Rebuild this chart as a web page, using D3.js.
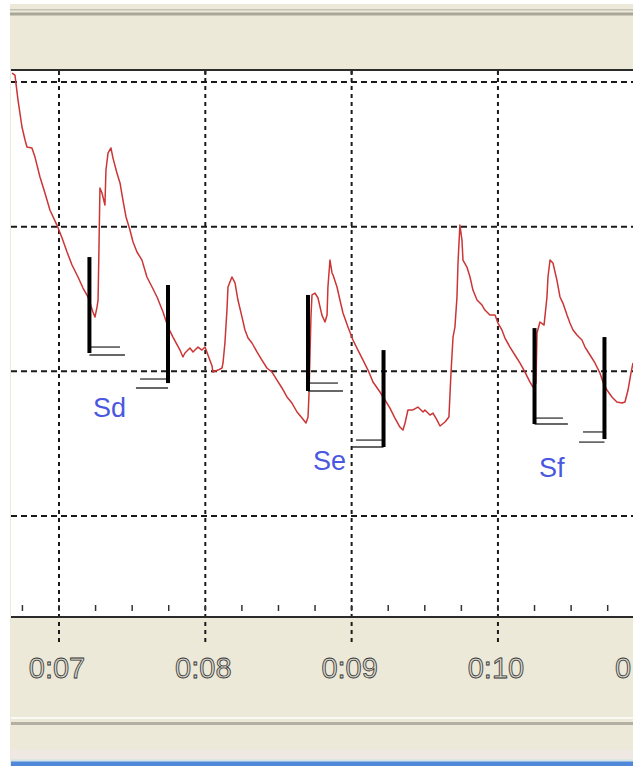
<!DOCTYPE html>
<html><head><meta charset="utf-8">
<script src="https://cdn.jsdelivr.net/npm/d3@7/dist/d3.min.js"></script>
<style>html,body{margin:0;padding:0;background:#fff;overflow:hidden}</style>
</head><body><svg id="c" width="633" height="766"></svg>
<script>
// ---- data (time in seconds, signal in grid units) ----
const times = [
6.679,6.699,6.720,6.747,6.768,6.781,6.815,6.836,6.870,6.904,
6.938,6.986,7.021,7.055,7.089,7.130,7.164,7.198,7.232,7.246,
7.260,7.267,7.273,7.280,7.294,7.314,7.321,7.335,7.355,7.369,
7.396,7.417,7.437,7.458,7.485,7.506,7.533,7.567,7.601,7.636,
7.670,7.711,7.745,7.779,7.827,7.847,7.861,7.895,7.916,7.950,
7.977,7.998,8.018,8.046,8.052,8.087,8.114,8.121,8.134,8.148,
8.155,8.182,8.203,8.223,8.251,8.271,8.292,8.319,8.353,8.387,
8.421,8.456,8.490,8.524,8.558,8.592,8.627,8.661,8.688,8.702,
8.709,8.722,8.729,8.750,8.770,8.797,8.818,8.832,8.838,8.852,
8.866,8.873,8.900,8.920,8.941,8.975,9.009,9.043,9.078,9.112,
9.146,9.194,9.228,9.262,9.296,9.330,9.351,9.365,9.385,9.419,
9.453,9.488,9.501,9.535,9.556,9.583,9.604,9.638,9.665,9.679,
9.693,9.706,9.720,9.727,9.740,9.754,9.761,9.788,9.809,9.829,
9.857,9.891,9.911,9.945,9.980,10.000,10.027,10.048,10.082,10.116,
10.150,10.185,10.219,10.239,10.260,10.267,10.287,10.315,10.335,10.342,
10.356,10.376,10.403,10.424,10.444,10.472,10.492,10.513,10.540,10.574,
10.595,10.629,10.663,10.697,10.718,10.745,10.779,10.813,10.848,10.868,
10.889,10.909,10.923];
const values = [
4.062,4.048,3.875,3.689,3.599,3.551,3.544,3.481,3.343,3.233,
3.115,3.011,2.922,2.825,2.735,2.652,2.576,2.514,2.410,2.375,
2.445,2.493,2.839,3.267,3.233,3.150,3.392,3.509,3.544,3.474,
3.371,3.302,3.184,3.067,2.977,2.894,2.825,2.769,2.652,2.583,
2.514,2.410,2.306,2.237,2.147,2.099,2.127,2.161,2.134,2.168,
2.147,2.168,2.113,2.037,1.995,2.009,2.023,2.058,2.196,2.424,
2.583,2.652,2.611,2.493,2.375,2.286,2.230,2.196,2.134,2.078,
2.023,1.995,1.940,1.885,1.823,1.781,1.719,1.677,1.643,1.684,
1.850,2.375,2.528,2.541,2.507,2.389,2.341,2.389,2.583,2.769,
2.680,2.666,2.583,2.493,2.403,2.306,2.217,2.147,2.078,2.009,
1.926,1.857,1.802,1.746,1.677,1.615,1.594,1.643,1.733,1.733,
1.753,1.719,1.733,1.698,1.712,1.664,1.622,1.650,1.684,1.988,
2.237,2.306,2.514,2.749,3.011,2.908,2.769,2.721,2.652,2.562,
2.493,2.458,2.424,2.389,2.389,2.334,2.286,2.230,2.168,2.113,
2.058,1.995,1.926,1.892,1.919,2.265,2.341,2.320,2.514,2.652,
2.769,2.749,2.631,2.514,2.472,2.389,2.334,2.286,2.251,2.217,
2.168,2.113,2.058,1.988,1.926,1.871,1.823,1.788,1.781,1.788,
1.871,1.988,2.058];

const tickSeconds = [7, 8, 9, 10, 11];
const tickLabels = ["0:07", "0:08", "0:09", "0:10", "0:11"];
const gridValues = [1, 2, 3, 4];

// vertical marker bars and their paired horizontal reference lines
const markerTimes   = [7.208, 7.745, 8.702, 9.218, 10.250, 10.728];
const markerTops    = [2.790, 2.597, 2.528, 2.147, 2.299, 2.237];
const markerBottoms = [2.127, 1.919, 1.864, 1.477, 1.636, 1.532];
const refAValues    = [2.168, 1.947, 1.919, 1.525, 1.677, 1.581];
const refAEnds      = [7.417, 7.554, 8.907, 9.030, 10.444, 10.581];
const refBValues    = [2.113, 1.885, 1.864, 1.477, 1.636, 1.511];
const refBEnds      = [7.451, 7.526, 8.941, 9.002, 10.478, 10.554];

const labelTexts  = ["Sd", "Se", "Sf"];
const labelTimes  = [7.232, 8.736, 10.280];
const labelValues = [1.684, 1.318, 1.270];

// ---- layout ----
const W = 633, H = 766;
const L = 11, R = 633, T = 70, B = 617;
const svg = d3.select("#c");

const x = d3.scaleLinear().domain([6.672, 10.923]).range([L, R]);
const y = d3.scaleLinear().domain([0.302, 4.083]).range([B, T]);

// window chrome
svg.append("rect").attr("x", 10).attr("y", 4).attr("width", W - 10).attr("height", H - 4).attr("fill", "#ece9d8");
svg.append("rect").attr("x", 10).attr("y", 9).attr("width", W - 10).attr("height", 1.5).attr("fill", "#c4c2b4");
svg.append("rect").attr("x", 10).attr("y", 12.5).attr("width", W - 10).attr("height", 3).attr("fill", "#a9a898");
svg.append("rect").attr("x", 11).attr("y", 717).attr("width", W - 11).attr("height", 2).attr("fill", "#faf9f4");
svg.append("rect").attr("x", 11).attr("y", 722).attr("width", W - 11).attr("height", 3).attr("fill", "#b3b0a3");
svg.append("rect").attr("x", 11).attr("y", 750).attr("width", W - 11).attr("height", 9).attr("fill", "#efe8e3");
svg.append("rect").attr("x", 11).attr("y", 759.5).attr("width", W - 11).attr("height", 2).attr("fill", "#cfe4ec");
svg.append("rect").attr("x", 11).attr("y", 761.5).attr("width", W - 11).attr("height", 5).attr("fill", "#4f88d8");

// plot area
svg.append("rect").attr("x", L).attr("y", T).attr("width", R - L).attr("height", B - T).attr("fill", "#fff");

const g = svg.append("g");

// horizontal dashed grid
g.selectAll("line.hg").data(gridValues).join("line")
  .attr("x1", L).attr("x2", R)
  .attr("y1", d => y(d)).attr("y2", d => y(d))
  .attr("stroke", "#1a1a1a").attr("stroke-width", 2).attr("stroke-dasharray", "6,4");

// vertical dashed grid (extends below axis)
g.selectAll("line.vg").data(tickSeconds).join("line")
  .attr("x1", d => x(d)).attr("x2", d => x(d))
  .attr("y1", T).attr("y2", B + 25)
  .attr("stroke", "#1a1a1a").attr("stroke-width", 2).attr("stroke-dasharray", "4,4");

// minor ticks above bottom axis
const minor = d3.range(6.75, 10.95, 0.25);
g.selectAll("line.mt").data(minor).join("line")
  .attr("x1", d => x(d)).attr("x2", d => x(d))
  .attr("y1", B - 12).attr("y2", B - 6)
  .attr("stroke", "#333").attr("stroke-width", 1.5);

// top ticks
g.selectAll("line.tt").data(tickSeconds).join("line")
  .attr("x1", d => x(d)).attr("x2", d => x(d))
  .attr("y1", T).attr("y2", T + 5)
  .attr("stroke", "#222").attr("stroke-width", 2);

// borders
svg.append("line").attr("x1", L).attr("x2", R).attr("y1", T).attr("y2", T).attr("stroke", "#2b2b2b").attr("stroke-width", 2.2);
svg.append("line").attr("x1", L).attr("x2", R).attr("y1", B).attr("y2", B).attr("stroke", "#2b2b2b").attr("stroke-width", 2);

// signal
const pts = times.map((t, i) => [t, values[i]]);
svg.append("clipPath").attr("id", "clip").append("rect").attr("x", L).attr("y", T + 1).attr("width", R - L).attr("height", B - T - 2);
svg.append("path").datum(pts)
  .attr("clip-path", "url(#clip)")
  .attr("fill", "none").attr("stroke", "#cc3535").attr("stroke-width", 1.5)
  .attr("stroke-linejoin", "round")
  .attr("d", d3.line().x(d => x(d[0])).y(d => y(d[1])));

// markers
const markers = markerTimes.map((t, i) => ({
  t, top: markerTops[i], bot: markerBottoms[i],
  aV: refAValues[i], aE: refAEnds[i], bV: refBValues[i], bE: refBEnds[i]
}));
const mg = svg.append("g");
mg.selectAll("line.ra").data(markers).join("line")
  .attr("x1", d => x(d.t)).attr("x2", d => x(d.aE))
  .attr("y1", d => y(d.aV)).attr("y2", d => y(d.aV))
  .attr("stroke", "#333").attr("stroke-width", 1.3);
mg.selectAll("line.rb").data(markers).join("line")
  .attr("x1", d => x(d.t)).attr("x2", d => x(d.bE))
  .attr("y1", d => y(d.bV)).attr("y2", d => y(d.bV))
  .attr("stroke", "#333").attr("stroke-width", 1.3);
mg.selectAll("line.bar").data(markers).join("line")
  .attr("x1", d => x(d.t)).attr("x2", d => x(d.t))
  .attr("y1", d => y(d.top)).attr("y2", d => y(d.bot))
  .attr("stroke", "#000").attr("stroke-width", 4);

// annotations
svg.selectAll("text.lab").data(labelTexts).join("text")
  .attr("x", (d, i) => x(labelTimes[i])).attr("y", (d, i) => y(labelValues[i]))
  .attr("font-family", "'Liberation Sans', Arial, sans-serif").attr("font-size", 27)
  .attr("fill", "#4a57e0").text(d => d);

// axis labels
svg.selectAll("text.tl").data(tickSeconds).join("text")
  .attr("x", d => x(d) - 2).attr("y", 678)
  .attr("text-anchor", "middle")
  .attr("font-family", "'Liberation Sans', Arial, sans-serif").attr("font-size", 29)
  .attr("fill", "#d6d3c8").attr("stroke", "#333").attr("stroke-width", 0.8)
  .text((d, i) => tickLabels[i]);
</script></body></html>
